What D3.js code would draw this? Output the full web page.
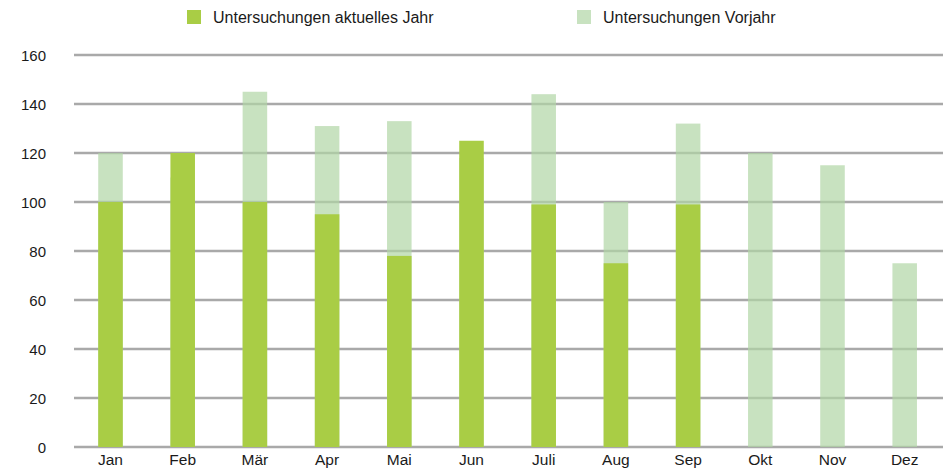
<!DOCTYPE html>
<html>
<head>
<meta charset="utf-8">
<script src="https://cdn.jsdelivr.net/npm/d3@7"></script>
<style>
  html, body { margin: 0; padding: 0; background: #fff; }
  svg text { font-family: "Liberation Sans", Arial, sans-serif; fill: #1a1a1a; }
</style>
</head>
<body>
<svg id="chart" width="949" height="469"></svg>
<script>
const months = ["Jan", "Feb", "Mär", "Apr", "Mai", "Jun", "Juli", "Aug", "Sep", "Okt", "Nov", "Dez"];
const currentYear = [100, 120, 100, 95, 78, 125, 99, 75, 99, null, null, null];
const previousYear = [120, 110, 145, 131, 133, 118, 144, 100, 132, 120, 115, 75];
const yTicks = [0, 20, 40, 60, 80, 100, 120, 140, 160];
const seriesNames = ["Untersuchungen aktuelles Jahr", "Untersuchungen Vorjahr"];
const seriesColors = ["#a9cd45", "#b0d6a5"];

const svg = d3.select("#chart");
const x = d3.scaleBand().domain(months).range([74.4, 940.8]).paddingInner(0.66).paddingOuter(0.33);
const y = d3.scaleLinear().domain([0, 160]).range([447, 55]);

// gridlines
svg.append("g").selectAll("line").data(yTicks).join("line")
  .attr("x1", 74).attr("x2", 943)
  .attr("y1", d => y(d)).attr("y2", d => y(d))
  .attr("stroke", "#a9a9a9").attr("stroke-width", 2.5);

// y labels
svg.append("g").selectAll("text").data(yTicks).join("text")
  .attr("x", 46).attr("y", d => y(d))
  .attr("text-anchor", "end").attr("dominant-baseline", "central")
  .attr("font-size", 15).text(d => d);

// previous year bars (behind, translucent)
svg.append("g").selectAll("rect").data(months).join("rect")
  .attr("x", d => x(d)).attr("width", x.bandwidth())
  .attr("y", (d, i) => y(previousYear[i]))
  .attr("height", (d, i) => y(0) - y(previousYear[i]))
  .attr("fill", seriesColors[1]).attr("fill-opacity", 0.7);

// current year bars (front)
svg.append("g").selectAll("rect").data(months.filter((d, i) => currentYear[i] != null)).join("rect")
  .attr("x", d => x(d)).attr("width", x.bandwidth())
  .attr("y", d => y(currentYear[months.indexOf(d)]))
  .attr("height", d => y(0) - y(currentYear[months.indexOf(d)]))
  .attr("fill", seriesColors[0]);

// x labels
svg.append("g").selectAll("text").data(months).join("text")
  .attr("x", d => x(d) + x.bandwidth() / 2).attr("y", 465)
  .attr("text-anchor", "middle").attr("font-size", 15.5).text(d => d);

// legend
const legendX = [187, 577];
const lg = svg.append("g").selectAll("g").data(seriesNames).join("g")
  .attr("transform", (d, i) => `translate(${legendX[i]},10)`);
lg.append("rect").attr("width", 14).attr("height", 14)
  .attr("fill", (d, i) => seriesColors[i]).attr("fill-opacity", (d, i) => i === 1 ? 0.7 : 1);
lg.append("text").attr("x", 26).attr("y", 7).attr("dominant-baseline", "central")
  .attr("font-size", 16).text(d => d);
</script>
</body>
</html>
